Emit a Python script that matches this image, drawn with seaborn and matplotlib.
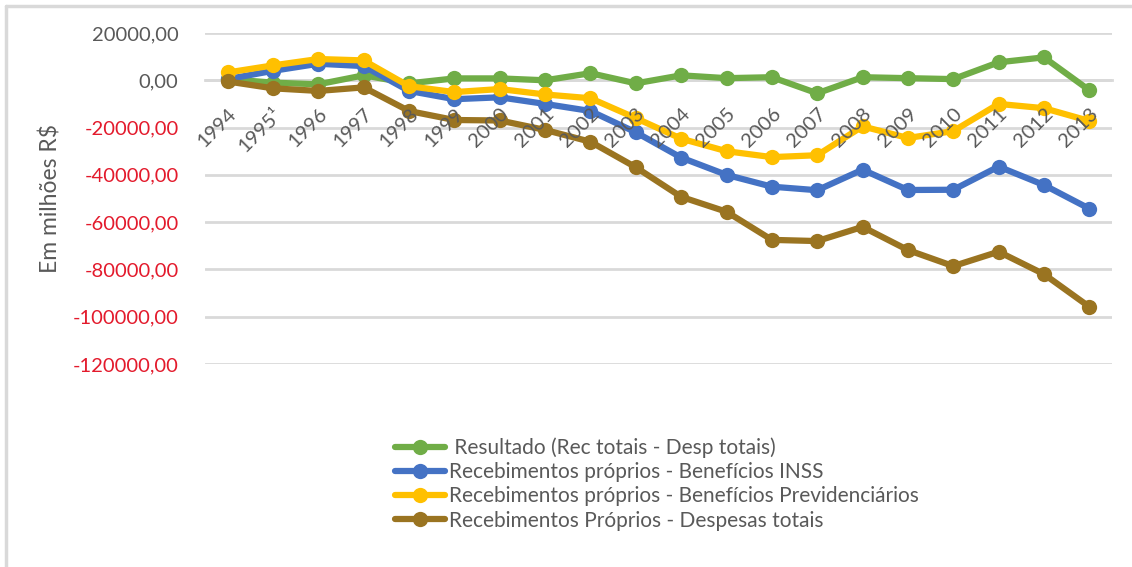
import seaborn as sns
import matplotlib.pyplot as plt
import matplotlib.lines as mlines
import pandas as pd

anos = ['1994', '1995¹', '1996', '1997', '1998', '1999', '2000', '2001', '2002', '2003',
        '2004', '2005', '2006', '2007', '2008', '2009', '2010', '2011', '2012', '2013']

resultado = [500, -1000, -1700, 2100, -1300, 800, 800, 0, 3000, -1300,
             2100, 900, 1300, -5500, 1300, 900, 500, 7600, 9700, -4200]
beneficios_inss = [500, 4000, 7000, 6000, -4500, -8000, -7200, -10000, -13000, -22000,
                   -32700, -40000, -45000, -46500, -37800, -46400, -46300, -36500, -44300, -54300]
beneficios_prev = [3300, 6300, 9000, 8400, -2500, -5000, -3700, -6000, -7600, -16000,
                   -24700, -30000, -32500, -31700, -19500, -24400, -21500, -10000, -11800, -17200]
despesas_totais = [-500, -3400, -4500, -3000, -13000, -16800, -17000, -21000, -26000, -36800,
                   -49300, -55600, -67500, -68000, -62000, -71800, -78600, -72500, -82000, -95800]

series = [' Resultado (Rec totais - Desp totais)',
          'Recebimentos próprios - Benefícios INSS',
          'Recebimentos próprios - Benefícios Previdenciários',
          'Recebimentos Próprios - Despesas totais']
cores = ['#70AD47', '#4472C4', '#FFC000', '#9A7421']

valores = [resultado, beneficios_inss, beneficios_prev, despesas_totais]
df = pd.DataFrame({
    'ano': anos * len(series),
    'valor': [v for s in valores for v in s],
    'serie': [s for s in series for _ in anos],
})

sns.set_style('white')
plt.rcParams['font.family'] = ['Lato', 'DejaVu Sans']

fig = plt.figure(figsize=(11.32, 5.67), dpi=100)
ax = fig.add_axes([205 / 1132, 1 - 364 / 567, (1112 - 205) / 1132, (364 - 33) / 567])

sns.lineplot(data=df, x='ano', y='valor', hue='serie', palette=cores, hue_order=series,
             sort=False, marker='o', markersize=11, markeredgewidth=0, linewidth=4.5,
             ax=ax, legend=True)

ax.set_xlim(-0.5, len(anos) - 0.5)
ax.set_ylim(-120000, 20000)
ax.set_yticks(range(-120000, 20001, 20000))
ax.set_yticklabels([f'{t},00' for t in range(-120000, 20001, 20000)])
for lab, t in zip(ax.get_yticklabels(), range(-120000, 20001, 20000)):
    lab.set_color('#E31A2C' if t < 0 else '#595959')
ax.tick_params(axis='y', labelsize=14.5, length=0, pad=19)

ax.grid(axis='y', color='#D9D9D9', linewidth=2)
ax.grid(axis='x', visible=False)
for s in ['top', 'right', 'left']:
    ax.spines[s].set_visible(False)
ax.spines['bottom'].set_position(('data', 0))
ax.spines['bottom'].set_color('#D9D9D9')
ax.spines['bottom'].set_linewidth(2)
ax.spines['bottom'].set_zorder(0.5)
ax.xaxis.set_zorder(3)  # rótulos dos anos por cima das linhas
ax.tick_params(axis='x', labelsize=14.5, length=0, pad=18, labelcolor='#595959')
for lab in ax.get_xticklabels():
    lab.set_rotation(45)
    lab.set_ha('right')
    lab.set_va('top')
    lab.set_rotation_mode('anchor')

ax.set_xlabel('')
ax.set_ylabel('Em milhões R$', fontsize=16.5, color='#595959', labelpad=8)

handles, labels = ax.get_legend_handles_labels()
ax.get_legend().remove()
fig.legend(handles, labels, loc='upper left', bbox_to_anchor=(385 / 1132, 1 - 427 / 567),
           frameon=False, fontsize=15, labelcolor='#595959', handlelength=2.4,
           handletextpad=0.15, labelspacing=0.2, borderpad=0)

# moldura cinza (topo e esquerda)
fig.add_artist(mlines.Line2D([6 / 1132, 1], [1 - 6 / 567, 1 - 6 / 567], color='#D9D9D9', linewidth=2.5))
fig.add_artist(mlines.Line2D([6 / 1132, 6 / 1132], [0, 1 - 6 / 567], color='#D9D9D9', linewidth=2.5))

plt.savefig('out.png', dpi=100)
